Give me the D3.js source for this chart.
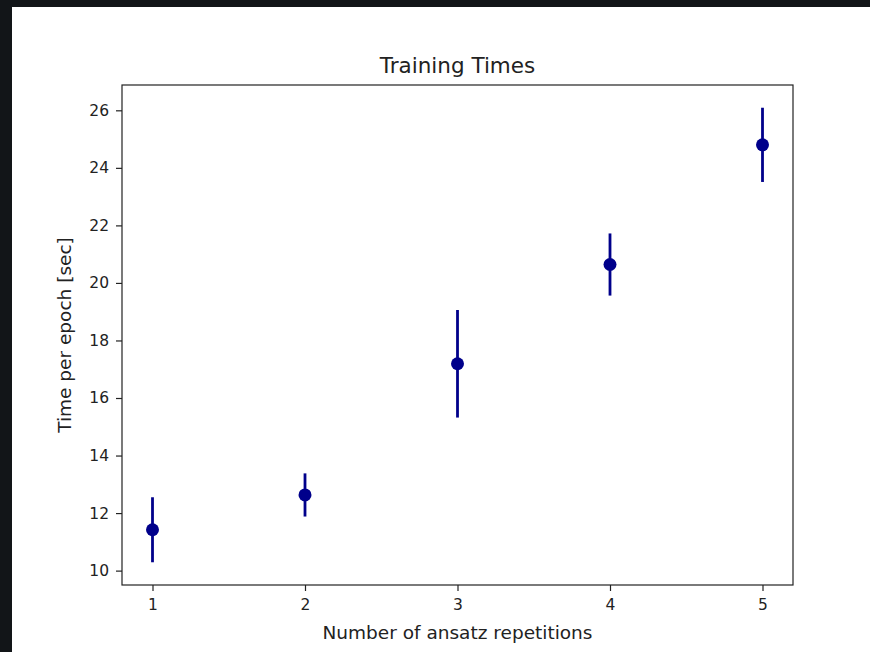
<!DOCTYPE html>
<html><head><meta charset="utf-8">
<script src="https://cdn.jsdelivr.net/npm/d3@7"></script>
<style>
html,body{margin:0;padding:0;background:#121518;}
svg{display:block;}
text{font-family:"DejaVu Sans",sans-serif;fill:#222;}
</style></head>
<body>
<svg id="chart" width="870" height="652"></svg>
<script>
const repetitions = [1, 2, 3, 4, 5];
const meanTimes = [11.42, 12.63, 17.19, 20.64, 24.80];
const errTimes = [1.13, 0.75, 1.87, 1.08, 1.29];
const xTicks = [1, 2, 3, 4, 5];
const yTicks = [10, 12, 14, 16, 18, 20, 22, 24, 26];
const titleText = "Training Times";
const xLabelText = "Number of ansatz repetitions";
const yLabelText = "Time per epoch [sec]";

const svg = d3.select("#chart");
svg.append("rect").attr("x", 12).attr("y", 7).attr("width", 858).attr("height", 645).attr("fill", "#ffffff");

const L = 122, R = 793, T = 85, B = 585;
const x = d3.scaleLinear().domain([0.8, 5.2]).range([L, R]);
const lo = d3.min(meanTimes.map((m, i) => m - errTimes[i]));
const hi = d3.max(meanTimes.map((m, i) => m + errTimes[i]));
const pad = (hi - lo) * 0.05;
const y = d3.scaleLinear().domain([lo - pad, hi + pad]).range([B, T]);

const xAxis = svg.append("g").attr("transform", `translate(0,${B})`)
  .call(d3.axisBottom(x).tickValues(xTicks).tickFormat(d3.format("d")).tickSize(6).tickPadding(5));
const yAxis = svg.append("g").attr("transform", `translate(${L},0)`)
  .call(d3.axisLeft(y).tickValues(yTicks).tickFormat(d3.format("d")).tickSize(6).tickPadding(7));
[xAxis, yAxis].forEach(a => {
  a.select(".domain").remove();
  a.selectAll(".tick line").attr("stroke", "#222").attr("stroke-width", 1.2);
  a.selectAll(".tick text").attr("font-size", 15.5).attr("fill", "#222").style("font-family", "DejaVu Sans");
});
xAxis.selectAll(".tick text").attr("dy", "0.9em");

svg.append("rect").attr("x", L).attr("y", T).attr("width", R - L).attr("height", B - T)
  .attr("fill", "none").attr("stroke", "#222").attr("stroke-width", 1.2);

const g = svg.append("g");
g.selectAll("line.err").data(repetitions).enter().append("line")
  .attr("class", "err")
  .attr("x1", d => x(d)).attr("x2", d => x(d))
  .attr("y1", (d, i) => y(meanTimes[i] - errTimes[i]))
  .attr("y2", (d, i) => y(meanTimes[i] + errTimes[i]))
  .attr("stroke", "#00008b").attr("stroke-width", 2.8);
g.selectAll("circle").data(repetitions).enter().append("circle")
  .attr("cx", d => x(d)).attr("cy", (d, i) => y(meanTimes[i]))
  .attr("r", 6.5).attr("fill", "#00008b");

svg.append("text").attr("x", (L + R) / 2).attr("y", 73).attr("text-anchor", "middle")
  .attr("font-size", 21.5).text(titleText);
svg.append("text").attr("x", (L + R) / 2).attr("y", 639).attr("text-anchor", "middle")
  .attr("font-size", 18.5).text(xLabelText);
svg.append("text").attr("transform", `translate(71,${(T + B) / 2}) rotate(-90)`).attr("text-anchor", "middle")
  .attr("font-size", 18.5).text(yLabelText);
</script>
</body></html>
